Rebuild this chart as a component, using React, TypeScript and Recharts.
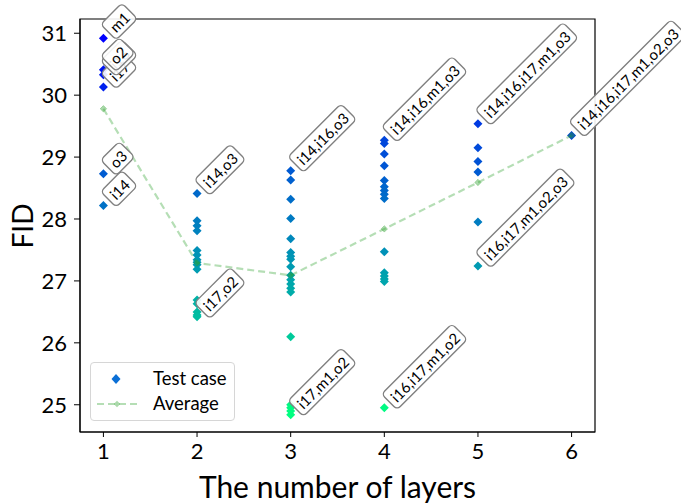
import React from "react";
import {
  ScatterChart,
  Scatter,
  XAxis,
  YAxis,
  ReferenceArea,
} from "recharts";

// FID of every test case, grouped by the number of layers
const layer1 = [30.92, 30.41, 30.33, 30.13, 28.73, 28.22];
const layer2 = [28.41, 27.97, 27.89, 27.81, 27.49, 27.42, 27.34, 27.3, 27.26, 27.19, 26.69, 26.63, 26.5, 26.45, 26.42];
const layer3 = [28.78, 28.63, 28.32, 28.01, 27.68, 27.46, 27.4, 27.35, 27.23, 27.09, 27.02, 26.95, 26.88, 26.82, 26.1, 25.0, 24.95, 24.9, 24.84];
const layer4 = [29.27, 29.22, 29.05, 28.86, 28.62, 28.52, 28.46, 28.4, 28.33, 27.47, 27.13, 27.08, 27.03, 26.99, 24.95];
const layer5 = [29.54, 29.15, 28.93, 28.76, 27.95, 27.24];
const layer6 = [29.35];
const averages = [29.78, 27.29, 27.09, 27.84, 28.59, 29.35];

// single layer labels, drawn in this order (last on top)
const layer1Labels = ["i14", "o3", "i17", "i16", "o2", "m1"];
const layer1LabelValues = [28.22, 28.73, 30.13, 30.33, 30.41, 30.92];
// labels of the highest / lowest test case for 2..6 layers
const topLabels = ["i14,o3", "i14,i16,o3", "i14,i16,m1,o3", "i14,i16,i17,m1,o3", "i14,i16,i17,m1,o2,o3"];
const bottomLabels = ["i17,o2", "i17,m1,o2", "i16,i17,m1,o2", "i16,i17,m1,o2,o3"];

const xTicks = [1, 2, 3, 4, 5, 6];
const yTicks = [25, 26, 27, 28, 29, 30, 31];
const xDomain = [0.75, 6.25];
const yDomain = [24.56, 31.23];

const layers = [layer1, layer2, layer3, layer4, layer5, layer6];
const testData = layers.flatMap((vals, i) => vals.map((v) => ({ x: i + 1, y: v })));
const avgData = averages.map((v, i) => ({ x: i + 1, y: v }));

const allVals = testData.map((d) => d.y);
const vMax = Math.max(...allVals);
const vMin = Math.min(...allVals);

const annotations = [
  ...layer1Labels.map((t, i) => ({ x: 1, y: layer1LabelValues[i], text: t })),
  ...topLabels.map((t, i) => ({ x: i + 2, y: Math.max(...layers[i + 1]), text: t })),
  ...bottomLabels.map((t, i) => ({ x: i + 2, y: Math.min(...layers[i + 1]), text: t })),
];

// matplotlib "winter" colormap, higher FID -> blue
const winter = (v: number) => {
  const t = (vMax - v) / (vMax - vMin);
  return `rgb(0, ${Math.round(255 * t)}, ${Math.round(255 * (1 - 0.5 * t))})`;
};

const FONT = "Lato, 'Open Sans', sans-serif";

let ctx: CanvasRenderingContext2D | null = null;
const measure = (text: string, size: number) => {
  if (!ctx) ctx = document.createElement("canvas").getContext("2d");
  if (!ctx) return text.length * size * 0.55;
  ctx.font = `${size}px Lato`;
  return ctx.measureText(text).width;
};

const TestDiamond = (props: any) => {
  const { cx, cy, payload } = props;
  const r = 4.5;
  return (
    <polygon
      points={`${cx},${cy - r} ${cx + r},${cy} ${cx},${cy + r} ${cx - r},${cy}`}
      fill={winter(payload.y)}
    />
  );
};

const AvgDiamond = (props: any) => {
  const { cx, cy } = props;
  const r = 3.2;
  return (
    <polygon
      points={`${cx},${cy - r} ${cx + r},${cy} ${cx},${cy + r} ${cx - r},${cy}`}
      fill="#2ca02c"
      fillOpacity={0.4}
      stroke="#2ca02c"
      strokeOpacity={0.4}
      strokeWidth={0.8}
    />
  );
};

const AnnotationBox = (props: any) => {
  const { cx, cy, payload } = props;
  const fs = 15;
  const w = measure(payload.text, fs) + 9;
  const h = 22;
  return (
    <g transform={`translate(${cx + 5},${cy - 6}) rotate(-45)`}>
      <rect
        x={0}
        y={-h / 2}
        width={w}
        height={h}
        rx={4.5}
        fill="#fff"
        fillOpacity={0.9}
        stroke="#808080"
        strokeWidth={1.4}
      />
      <text x={4.5} y={0.5} dominantBaseline="central" fontSize={fs} fontFamily={FONT} fill="#000">
        {payload.text}
      </text>
    </g>
  );
};

const Legend = () => (
  <div
    style={{
      position: "absolute",
      left: 90,
      top: 362,
      width: 145,
      height: 59,
      border: "1px solid #d6d6d6",
      borderRadius: 4,
      background: "rgba(255,255,255,0.8)",
      boxSizing: "border-box",
      fontFamily: FONT,
      fontSize: 18.5,
      color: "#000",
    }}
  >
    <svg width={50} height={57} style={{ position: "absolute", left: 0, top: 0 }}>
      <polygon points="25,11 29.5,16 25,21 20.5,16" fill="#0b6fd6" />
      <line x1={6} y1={41} x2={46} y2={41} stroke="#2ca02c" strokeOpacity={0.35} strokeWidth={2.2} strokeDasharray="7 4" />
      <polygon points="26,37.8 29.2,41 26,44.2 22.8,41" fill="#2ca02c" fillOpacity={0.4} />
    </svg>
    <div style={{ position: "absolute", left: 62, top: 4 }}>Test case</div>
    <div style={{ position: "absolute", left: 62, top: 29 }}>Average</div>
  </div>
);

export default function App() {
  return (
    <div style={{ position: "absolute", left: 0, top: 0, width: 681, height: 503, background: "#fff" }}>
      <ScatterChart width={681} height={503} margin={{ top: 19, right: 86, bottom: 0, left: 0 }}>
        <XAxis
          dataKey="x"
          type="number"
          domain={xDomain}
          ticks={xTicks}
          height={71}
          tickSize={5}
          tickMargin={6}
          stroke="#000"
          tick={{ fontSize: 22, fontFamily: FONT, fill: "#000" }}
          label={{ value: "The number of layers", position: "insideBottom", offset: 5, fontSize: 30, fontFamily: FONT, fill: "#000" }}
        />
        <YAxis
          dataKey="y"
          type="number"
          domain={yDomain}
          ticks={yTicks}
          width={80}
          tickSize={6}
          tickMargin={7}
          stroke="#000"
          tick={{ fontSize: 22, fontFamily: FONT, fill: "#000" }}
          label={{
            content: () => (
              <text x={22} y={226} transform="rotate(-90 22 226)" textAnchor="middle" dominantBaseline="central" fontSize={28} fontFamily={FONT} fill="#000">
                FID
              </text>
            ),
          }}
        />
        <ReferenceArea x1={xDomain[0]} x2={xDomain[1]} y1={yDomain[0]} y2={yDomain[1]} fill="none" stroke="#000" strokeWidth={1.2} />
        <Scatter data={testData} shape={TestDiamond} isAnimationActive={false} />
        <Scatter
          data={avgData}
          line={{ stroke: "#2ca02c", strokeOpacity: 0.35, strokeWidth: 2.2, strokeDasharray: "7 4" }}
          shape={AvgDiamond}
          isAnimationActive={false}
        />
        <Scatter data={annotations} shape={AnnotationBox} isAnimationActive={false} />
      </ScatterChart>
      <Legend />
    </div>
  );
}
